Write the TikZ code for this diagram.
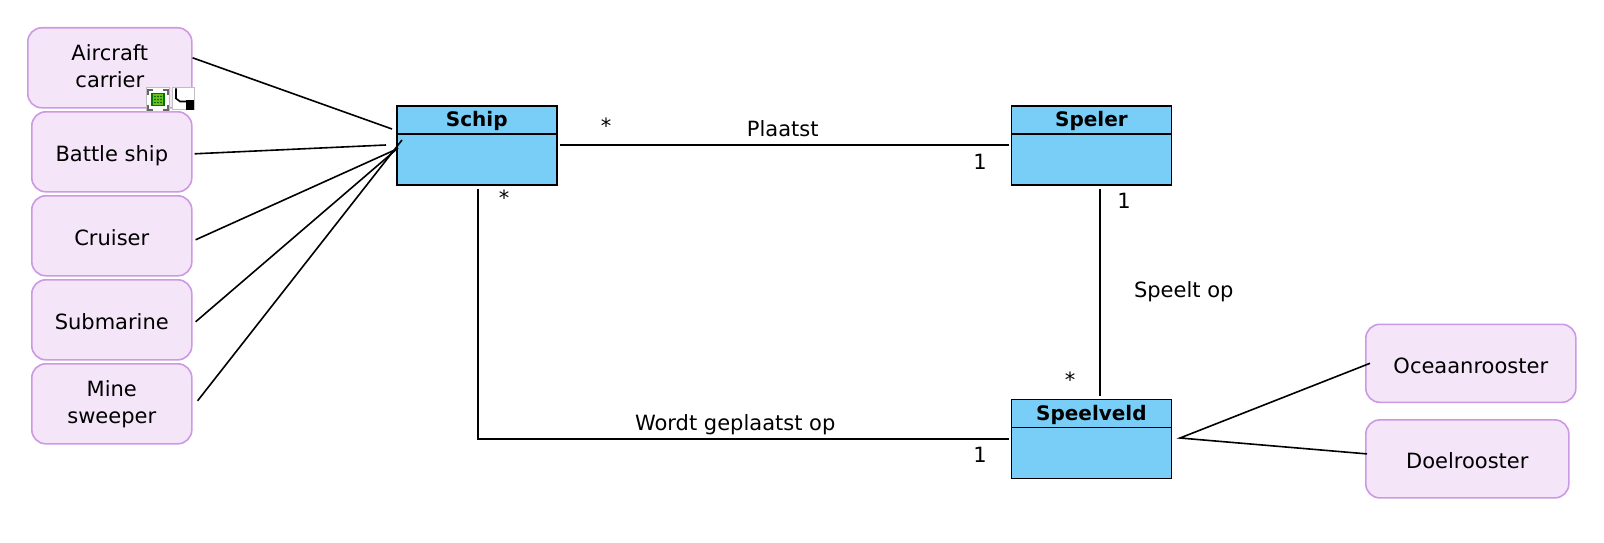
\documentclass[tikz,border=0pt]{standalone}
\usepackage{fontspec}
\setmainfont{DejaVu Sans}
\usepackage{tikz}
\usetikzlibrary{positioning}
\definecolor{classblue}{HTML}{78CEF6}
\definecolor{rolefill}{HTML}{F4E6F8}
\definecolor{roleline}{HTML}{CC99E4}
\definecolor{handlegreen}{HTML}{6CC020}
\newcommand{\rolestrut}{\rule[-4pt]{0pt}{28pt}}
\newcommand{\roledepth}{\rule[-4pt]{0pt}{10pt}}
\newcommand{\headstrut}{\rule[-4pt]{0pt}{22pt}}

\begin{document}
\begin{tikzpicture}[
    x=1pt,y=-1pt,
    font=\fontsize{21}{27}\selectfont,
    role/.style={draw=roleline,fill=rolefill,line width=1.6pt,rounded corners=14pt,align=center,inner sep=0pt,minimum width=160pt,minimum height=80pt,execute at begin node=\rolestrut,execute at end node=\roledepth},
    twoline/.style={execute at begin node=\rule{0pt}{30pt}},
    classhead/.style={draw,fill=classblue,line width=1.6pt,inner sep=0pt,minimum width=160pt,minimum height=28pt,font=\fontsize{20}{24}\selectfont\bfseries,execute at begin node=\headstrut},
    classbody/.style={draw,fill=classblue,line width=1.6pt,inner sep=0pt,minimum width=160pt,minimum height=51pt},
    link/.style={line width=1.6pt},
    mult/.style={inner sep=0pt}]
  \useasboundingbox (0,0) rectangle (1604,543);
  \node[role,twoline,minimum width=164pt,anchor=north west] (aircraft) at (27,27) {Aircraft\\carrier};
  \node[role,below=2.4pt of aircraft.south east,anchor=north east] (battle) {Battle ship};
  \node[role,below=2.4pt of battle] (cruiser) {Cruiser};
  \node[role,below=2.4pt of cruiser] (submarine) {Submarine};
  \node[role,twoline,below=2.4pt of submarine] (mine) {Mine\\sweeper};
  \node[classhead,anchor=north west] (schip) at (396,105) {Schip};
  \node[classbody,below=-1.6pt of schip] (schipbody) {};
  \node[classhead,right=453pt of schip] (speler) {Speler};
  \node[classbody,below=-1.6pt of speler] (spelerbody) {};
  \node[classhead,below=213pt of spelerbody] (speelveld) {Speelveld};
  \node[classbody,below=-1.6pt of speelveld] (speelveldbody) {};
  \node[role,minimum width=210pt,minimum height=78pt,anchor=north west] (ocean) at (1365,323.5) {Oceaanrooster};
  \node[role,minimum width=203pt,minimum height=78pt,below=16pt of ocean.south west,anchor=north west] (doel) {Doelrooster};
  \coordinate (endaircraft) at (392,129);
  \coordinate (endbattle) at (386,145);
  \coordinate (endcruiser) at (397,149);
  \coordinate (endsubmarine) at (398,148);
  \coordinate (endmine) at (402,140);
  \coordinate (split) at (1180,438);
  \draw[link] ([yshift=10pt]aircraft.east) -- (endaircraft);
  \draw[link] ([xshift=2pt,yshift=-2pt]battle.east) -- (endbattle);
  \draw[link] ([xshift=3pt,yshift=-4pt]cruiser.east) -- (endcruiser);
  \draw[link] ([xshift=3pt,yshift=-2pt]submarine.east) -- (endsubmarine);
  \draw[link] ([xshift=5pt,yshift=3pt]mine.east) -- (endmine);
  \draw[link] ([xshift=2pt,yshift=-12pt]schipbody.north east) -- node[pos=.497,above=4pt] (plaatst) {Plaatst} ([xshift=-2pt,yshift=-12pt]spelerbody.north west);
  \draw[link] ([xshift=1pt,yshift=-3pt]schipbody.south) |- node[pos=.7425,above=0pt] (geplaatst) {Wordt geplaatst op} ([xshift=-2pt,yshift=14pt]speelveldbody.west);
  \draw[link] ([xshift=8.5pt,yshift=-3pt]spelerbody.south) -- node[right=30pt,pos=.5] (speeltop) {Speelt op} ([xshift=8.5pt,yshift=3pt]speelveld.north);
  \draw[link] ([xshift=5pt]ocean.west) -- (split) -- ([xshift=2pt,yshift=5pt]doel.west);
  \node[mult] (m1) at (606,126) {*};
  \node[mult] (m2) at (980,162) {1};
  \node[mult] (m3) at (504,198) {*};
  \node[mult] (m4) at (1124,201) {1};
  \node[mult] (m5) at (1070,380) {*};
  \node[mult] (m6) at (980,455) {1};
  \node[draw=black!25,fill=white,line width=1pt,minimum size=23pt,inner sep=0pt] (handle) at (158,99.5) {};
  \foreach \sx/\sy in {-1/-1,1/-1,-1/1,1/1}
    \draw[black!60,line width=2pt] ([xshift=\sx*10pt,yshift=\sy*5pt]handle.center) -- ([xshift=\sx*10pt,yshift=\sy*10pt]handle.center) -- ([xshift=\sx*5pt,yshift=\sy*10pt]handle.center);
  \node[draw=green!45!black,fill=handlegreen,line width=1.5pt,minimum size=12pt,inner sep=0pt] (handlecore) at (handle) {};
  \foreach \sx in {-3,0,3}
    \foreach \sy in {-3,0,3}
      \fill[green!35!black] ([xshift=\sx pt,yshift=\sy pt]handlecore.center) circle[radius=.8pt];
  \node[draw=black!25,fill=white,line width=1pt,minimum size=22pt,inner sep=0pt] (route) at (183,98.5) {};
  \draw[line width=1.6pt] ([xshift=-7pt,yshift=10pt]route.center) -- ([xshift=-7pt,yshift=0pt]route.center) -- ([xshift=-3pt,yshift=-3pt]route.center) -- ([xshift=4pt,yshift=-3pt]route.center);
  \node[fill=black,minimum width=8pt,minimum height=10pt,inner sep=0pt,anchor=south east] (routetip) at (route.south east) {};
\end{tikzpicture}
\end{document}
